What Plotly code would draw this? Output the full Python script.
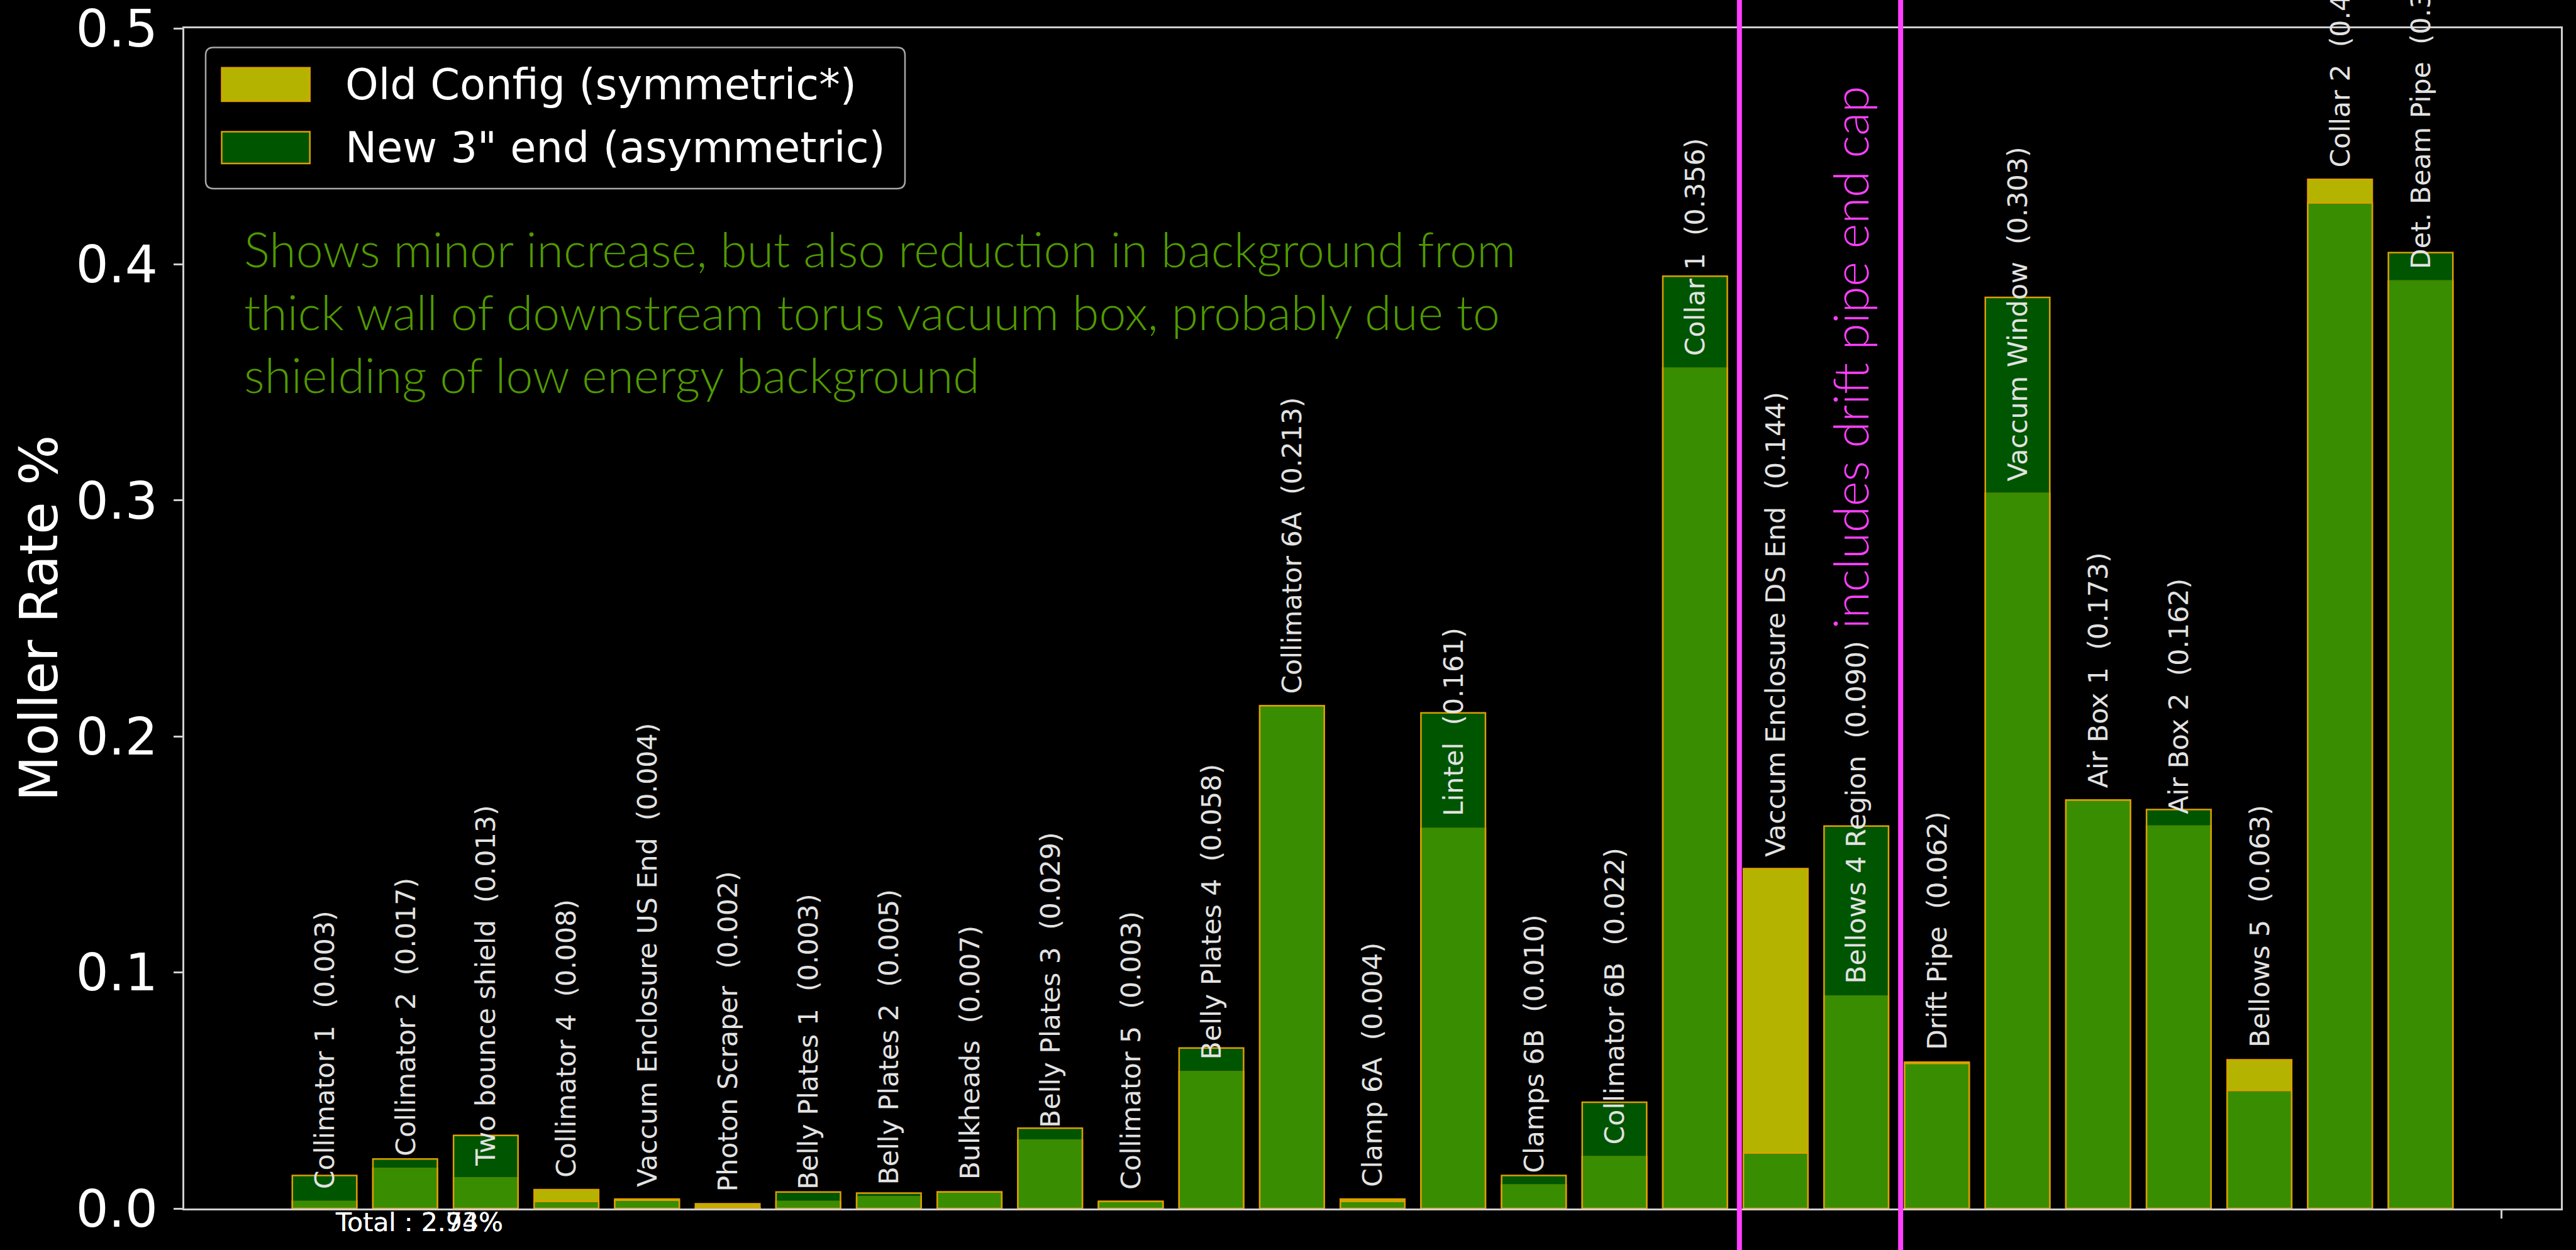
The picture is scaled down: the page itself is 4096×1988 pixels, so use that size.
import plotly.graph_objects as go

# ---------------- data ----------------
categories = [
    "Collimator 1", "Collimator 2", "Two bounce shield", "Collimator 4",
    "Vaccum Enclosure US End", "Photon Scraper", "Belly Plates 1", "Belly Plates 2",
    "Bulkheads", "Belly Plates 3", "Collimator 5", "Belly Plates 4",
    "Collimator 6A", "Clamp 6A", "Lintel", "Clamps 6B", "Collimator 6B",
    "Collar 1", "Vaccum Enclosure DS End", "Bellows 4 Region", "Drift Pipe",
    "Vaccum Window", "Air Box 1", "Air Box 2", "Bellows 5", "Collar 2",
    "Det. Beam Pipe",
]
old_rate = [0.003, 0.017, 0.013, 0.008, 0.004, 0.002, 0.003, 0.005, 0.007,
            0.029, 0.003, 0.058, 0.213, 0.004, 0.161, 0.010, 0.022, 0.356,
            0.144, 0.090, 0.062, 0.303, 0.173, 0.162, 0.063, 0.436, 0.393]
new_rate = [0.014, 0.021, 0.031, 0.003, 0.0035, 0.0003, 0.007, 0.0065, 0.007,
            0.034, 0.003, 0.068, 0.213, 0.003, 0.210, 0.014, 0.045, 0.395,
            0.0235, 0.162, 0.0615, 0.386, 0.173, 0.169, 0.050, 0.426, 0.405]
old_label = "Old Config (symmetric*)"
new_label = 'New 3" end (asymmetric)'
note_text = ("Shows minor increase, but also reduction in background from<br>"
             "thick wall of downstream torus vacuum box, probably due to<br>"
             "shielding of low energy background")
region_text = "includes drift pipe end cap"
region_bounds = [17.55, 19.55]
yticks = [0.0, 0.1, 0.2, 0.3, 0.4, 0.5]

xs = list(range(len(categories)))

# ---------------- layout helpers ----------------
W, H = 4096, 1988
ML, MR, MT, MB = 293, 24, 45, 66
PW, PH = W - ML - MR, H - MT - MB


def px(x):
    return (x - ML) / PW


def py(y):
    return (MT + PH - y) / PH


OLD_COLOR = "#b4b400"
NEW_COLOR = "rgba(0,123,0,0.69)"
EDGE = "#dd9f00"
AXC = "#cfcfcf"

fig = go.Figure()
fig.add_trace(go.Bar(x=xs, y=old_rate, width=0.8, name=old_label,
                     marker=dict(color=OLD_COLOR, line=dict(color=EDGE, width=2.5)),
                     showlegend=False))
fig.add_trace(go.Bar(x=xs, y=new_rate, width=0.8, name=new_label,
                     marker=dict(color=NEW_COLOR, line=dict(color=EDGE, width=2.5)),
                     showlegend=False))

annotations = []
for i, (c, v) in enumerate(zip(categories, old_rate)):
    annotations.append(dict(
        x=i, y=v, xref="x", yref="y", text=f"{c}  ({v:.3f})",
        textangle=-90, xanchor="center", yanchor="bottom", yshift=17,
        showarrow=False, font=dict(family="DejaVu Sans", size=42.7, color="#e2e2e2")))

# totals
for tot in (sum(new_rate), sum(old_rate)):
    annotations.append(dict(
        x=px(531), y=py(1918), xref="paper", yref="paper", xanchor="left", yanchor="top",
        text=f"Total : {tot:.2f}%", showarrow=False,
        font=dict(family="DejaVu Sans", size=41, color="white")))

# note
annotations.append(dict(
    x=px(386), y=py(347), xref="paper", yref="paper", xanchor="left", yanchor="top",
    align="left", text=note_text, showarrow=False,
    font=dict(family="Lato", size=77, color="#4f9a00", weight=300)))

# region text
annotations.append(dict(
    x=18.92, y=0.245, xref="x", yref="y", xanchor="center", yanchor="bottom",
    textangle=-90, text=region_text, showarrow=False,
    font=dict(family="Lato", size=76, color="#ff40ff", weight=300)))

# y-axis title
annotations.append(dict(
    x=px(61), y=0.5, xref="paper", yref="paper", xanchor="center", yanchor="middle",
    textangle=-90, text="Moller Rate %", showarrow=False,
    font=dict(family="DejaVu Sans", size=84, color="white")))

# legend (drawn by hand to match the large patches)
lx0, lx1, ly0, ly1 = 327, 1439, 75.5, 300
annotations.append(dict(x=px(547), y=py(134.5), xref="paper", yref="paper",
                        xanchor="left", yanchor="middle", text=old_label, showarrow=False,
                        font=dict(family="DejaVu Sans", size=67, color="white")))
annotations.append(dict(x=px(547), y=py(234.7), xref="paper", yref="paper",
                        xanchor="left", yanchor="middle", text=new_label, showarrow=False,
                        font=dict(family="DejaVu Sans", size=67, color="white")))

shapes = []
rx, ry = 12.4 / PW, 12.4 / PH
X0, X1, Y0, Y1 = px(lx0), px(lx1), py(ly1), py(ly0)
path = (f"M {X0+rx},{Y0} L {X1-rx},{Y0} Q {X1},{Y0} {X1},{Y0+ry} "
        f"L {X1},{Y1-ry} Q {X1},{Y1} {X1-rx},{Y1} L {X0+rx},{Y1} "
        f"Q {X0},{Y1} {X0},{Y1-ry} L {X0},{Y0+ry} Q {X0},{Y0} {X0+rx},{Y0} Z")
shapes.append(dict(type="path", path=path, xref="paper", yref="paper",
                   fillcolor="black", line=dict(color="#a8a8a8", width=2.5), layer="above"))
shapes.append(dict(type="rect", xref="paper", yref="paper",
                   x0=px(352.5), x1=px(492.7), y0=py(160.9), y1=py(107.8),
                   fillcolor=OLD_COLOR, line=dict(color=EDGE, width=2.5), layer="above"))
shapes.append(dict(type="rect", xref="paper", yref="paper",
                   x0=px(352.5), x1=px(492.7), y0=py(260), y1=py(209.4),
                   fillcolor="#005500", line=dict(color=EDGE, width=2.5), layer="above"))
for xb in region_bounds:
    shapes.append(dict(type="line", xref="x", yref="paper", x0=xb, x1=xb,
                       y0=-0.04, y1=1.03, line=dict(color="#ff40ff", width=8), layer="above"))

fig.update_layout(
    width=W, height=H, margin=dict(l=ML, r=MR, t=MT, b=MB, autoexpand=False),
    paper_bgcolor="black", plot_bgcolor="black", barmode="overlay",
    showlegend=False, annotations=annotations, shapes=shapes,
    xaxis=dict(range=[-1.74, 27.74], tickvals=[27], ticktext=[""], ticks="outside",
               ticklen=13, tickwidth=2.5, tickcolor=AXC, showgrid=False, zeroline=False,
               showline=True, linecolor=AXC, linewidth=2.5, mirror=True),
    yaxis=dict(range=[0, 0.5], tickvals=yticks, ticktext=[f"{t:.1f}" for t in yticks],
               ticks="outside", ticklen=14, tickwidth=2.5, tickcolor=AXC,
               ticklabelstandoff=9, ticklabeloverflow="allow",
               tickfont=dict(family="DejaVu Sans", size=82, color="white"),
               showgrid=False, zeroline=False, showline=True, linecolor=AXC,
               linewidth=2.5, mirror=True),
)

fig.write_html("out.html")
